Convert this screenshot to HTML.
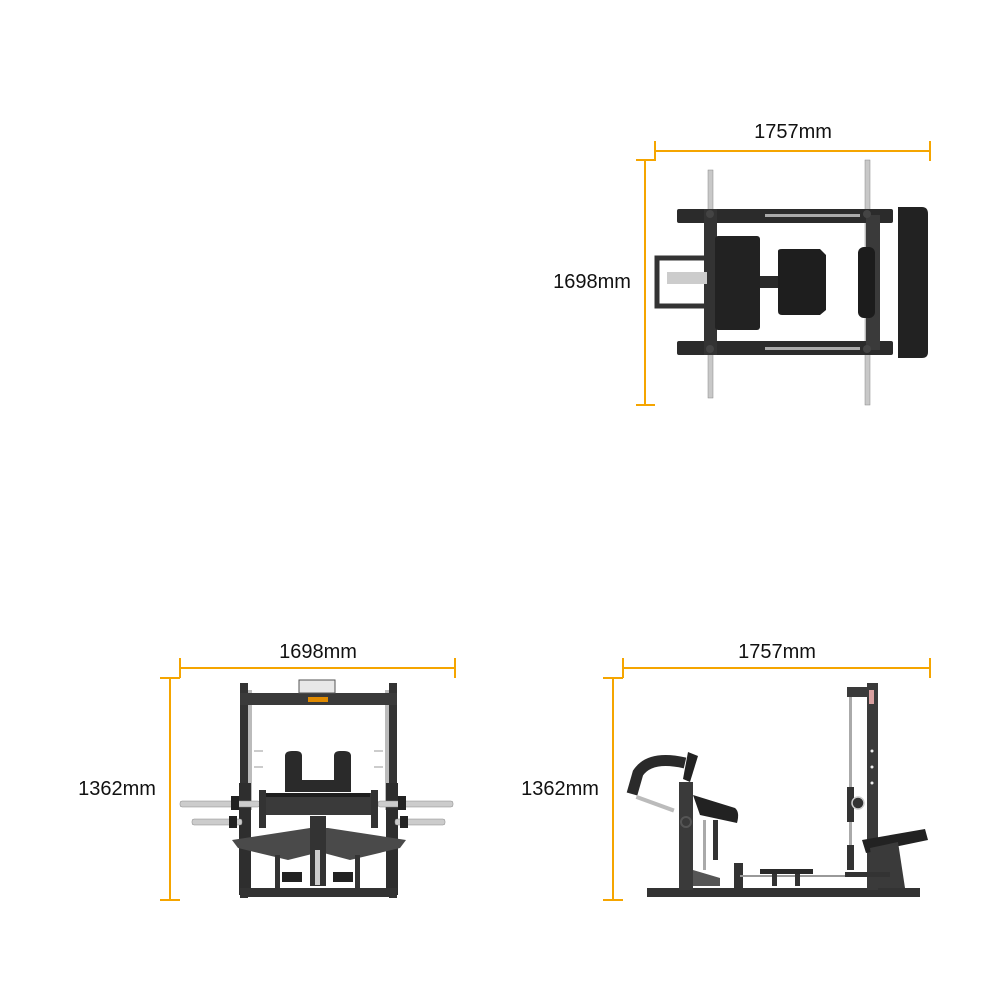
<!DOCTYPE html>
<html><head><meta charset="utf-8"><style>
html,body{margin:0;padding:0;background:#fff;}
svg{display:block}
text{font-family:"Liberation Sans",sans-serif;font-size:20px;fill:#111}
</style></head><body>
<svg width="1000" height="1000" viewBox="0 0 1000 1000" xmlns="http://www.w3.org/2000/svg">
<g stroke="#f5a500" stroke-width="2" fill="none">
  <!-- top view dims -->
  <path d="M655 151H930M655 141V161M930 141V161M645 160V405M636 160H655M636 405H655"/>
  <!-- front view dims -->
  <path d="M180 668H455M180 658V678M455 658V678M170 678V900M160 678H180M160 900H180"/>
  <!-- side view dims -->
  <path d="M623 668H930M623 658V678M930 658V678M613 678V900M603 678H623M603 900H623"/>
</g>
<text x="793" y="138" text-anchor="middle">1757mm</text>
<text x="592" y="288" text-anchor="middle">1698mm</text>
<text x="318" y="658" text-anchor="middle">1698mm</text>
<text x="117" y="795" text-anchor="middle">1362mm</text>
<text x="777" y="658" text-anchor="middle">1757mm</text>
<text x="560" y="795" text-anchor="middle">1362mm</text>

<!-- TOP VIEW -->
<g>
  <rect x="708" y="170" width="5" height="228" fill="#c8c8c8" stroke="#888" stroke-width="0.5"/>
  <rect x="865" y="160" width="5" height="245" fill="#c8c8c8" stroke="#888" stroke-width="0.5"/>
  <rect x="677" y="209" width="216" height="14" rx="2" fill="#2b2b2b"/>
  <rect x="677" y="341" width="216" height="14" rx="2" fill="#2b2b2b"/>
  <rect x="765" y="214" width="95" height="3" fill="#aaa"/>
  <rect x="765" y="347" width="95" height="3" fill="#aaa"/>
  <rect x="704" y="209" width="13" height="146" fill="#333"/>
  <rect x="866" y="215" width="14" height="135" fill="#3a3a3a"/>
  <path d="M898 207H922Q928 207 928 214V352Q928 358 922 358H898Z" fill="#222"/>
  <rect x="657" y="258" width="70" height="48" fill="none" stroke="#333" stroke-width="5"/>
  <rect x="667" y="272" width="40" height="12" fill="#ccc"/>
  <rect x="715" y="236" width="45" height="94" rx="3" fill="#222"/>
  <rect x="760" y="276" width="20" height="12" fill="#2a2a2a"/>
  <path d="M778 251Q778 249 782 249H820L826 255V310L820 315H782Q778 315 778 311Z" fill="#1e1e1e"/>
  <rect x="858" y="247" width="17" height="71" rx="6" fill="#1c1c1c"/>
  <circle cx="710" cy="214" r="4" fill="#444"/><circle cx="710" cy="349" r="4" fill="#444"/>
  <circle cx="867" cy="214" r="4" fill="#444"/><circle cx="867" cy="349" r="4" fill="#444"/>
</g>

<!-- FRONT VIEW -->
<g>
  <rect x="248" y="690" width="4" height="120" fill="#bbb"/>
  <rect x="385" y="690" width="4" height="120" fill="#bbb"/>
  <rect x="240" y="683" width="8" height="215" fill="#333"/>
  <rect x="389" y="683" width="8" height="215" fill="#333"/>
  <rect x="239" y="783" width="12" height="112" fill="#2e2e2e"/>
  <rect x="386" y="783" width="12" height="112" fill="#2e2e2e"/>
  <rect x="240" y="693" width="157" height="12" fill="#3a3a3a"/>
  <rect x="299" y="680" width="36" height="13" fill="#e8e8e8" stroke="#555" stroke-width="1"/>
  <rect x="308" y="697" width="20" height="5" fill="#e08a00"/>
  <g fill="#ccc"><rect x="254" y="750" width="9" height="2"/><rect x="254" y="766" width="9" height="2"/><rect x="374" y="750" width="9" height="2"/><rect x="374" y="766" width="9" height="2"/></g>
  <rect x="180" y="801" width="80" height="6" rx="2" fill="#ccc" stroke="#888" stroke-width="0.5"/>
  <rect x="378" y="801" width="75" height="6" rx="2" fill="#ccc" stroke="#888" stroke-width="0.5"/>
  <rect x="192" y="819" width="50" height="6" rx="2" fill="#ccc" stroke="#888" stroke-width="0.5"/>
  <rect x="395" y="819" width="50" height="6" rx="2" fill="#ccc" stroke="#888" stroke-width="0.5"/>
  <rect x="231" y="796" width="8" height="14" fill="#222"/><rect x="398" y="796" width="8" height="14" fill="#222"/>
  <rect x="229" y="816" width="8" height="12" fill="#222"/><rect x="400" y="816" width="8" height="12" fill="#222"/>
  <path d="M285 792V756Q285 751 292 751H296Q302 751 302 756V780H334V756Q334 751 340 751H344Q351 751 351 756V792Z" fill="#2a2a2a"/>
  <rect x="262" y="793" width="111" height="22" fill="#3a3a3a"/>
  <rect x="265" y="793" width="105" height="4" fill="#1e1e1e"/>
  <rect x="259" y="790" width="7" height="38" fill="#333"/><rect x="371" y="790" width="7" height="38" fill="#333"/>
  <path d="M232 840L310 828H328L406 840L400 848L350 860L320 852L288 860L238 848Z" fill="#4a4a4a"/>
  <rect x="310" y="816" width="16" height="70" fill="#333"/>
  <rect x="315" y="850" width="5" height="35" fill="#ccc"/>
  <rect x="282" y="872" width="20" height="10" fill="#222"/><rect x="333" y="872" width="20" height="10" fill="#222"/>
  <rect x="275" y="855" width="5" height="35" fill="#333"/><rect x="355" y="855" width="5" height="35" fill="#333"/>
  <rect x="240" y="888" width="157" height="9" fill="#333"/>
</g>

<!-- SIDE VIEW -->
<g>
  <rect x="647" y="888" width="273" height="9" fill="#333"/>
  <rect x="679" y="782" width="14" height="108" fill="#3a3a3a"/>
  <path d="M632 794L638 773Q650 755 685 763" fill="none" stroke="#2a2a2a" stroke-width="11"/>
  <path d="M688 752L698 756L690 782L683 779Z" fill="#222"/>
  <rect x="637" y="795" width="40" height="4" fill="#bbb" transform="rotate(20 637 795)"/>
  <path d="M693 795L735 808Q740 812 737 823L700 815Z" fill="#222"/>
  <rect x="713" y="820" width="5" height="40" fill="#333"/>
  <rect x="703" y="820" width="3" height="50" fill="#aaa"/>
  <path d="M693 870L720 878V886H693Z" fill="#555"/>
  <circle cx="686" cy="822" r="5" fill="none" stroke="#555" stroke-width="2"/>
  <rect x="734" y="863" width="9" height="25" fill="#333"/>
  <rect x="740" y="875" width="130" height="2" fill="#999"/>
  <rect x="760" y="869" width="53" height="5" fill="#2a2a2a"/>
  <rect x="772" y="874" width="5" height="12" fill="#333"/><rect x="795" y="874" width="5" height="12" fill="#333"/>
  <rect x="849" y="690" width="3" height="170" fill="#aaa"/>
  <rect x="847" y="787" width="7" height="35" fill="#333"/>
  <rect x="847" y="845" width="7" height="25" fill="#333"/>
  <circle cx="858" cy="803" r="6" fill="#333" stroke="#ccc" stroke-width="1.5"/>
  <rect x="847" y="687" width="22" height="10" fill="#3a3a3a"/>
  <rect x="867" y="683" width="11" height="207" fill="#3a3a3a"/>
  <rect x="869" y="690" width="5" height="14" fill="#d9a0a0"/>
  <g fill="#eee"><circle cx="872" cy="751" r="1.5"/><circle cx="872" cy="767" r="1.5"/><circle cx="872" cy="783" r="1.5"/></g>
  <path d="M862 840L925 829L928 840L866 853Z" fill="#222"/>
  <path d="M870 848L898 842L905 888H875Z" fill="#3a3a3a"/>
  <rect x="845" y="872" width="45" height="5" fill="#333"/>
</g>
</svg>
</body></html>
